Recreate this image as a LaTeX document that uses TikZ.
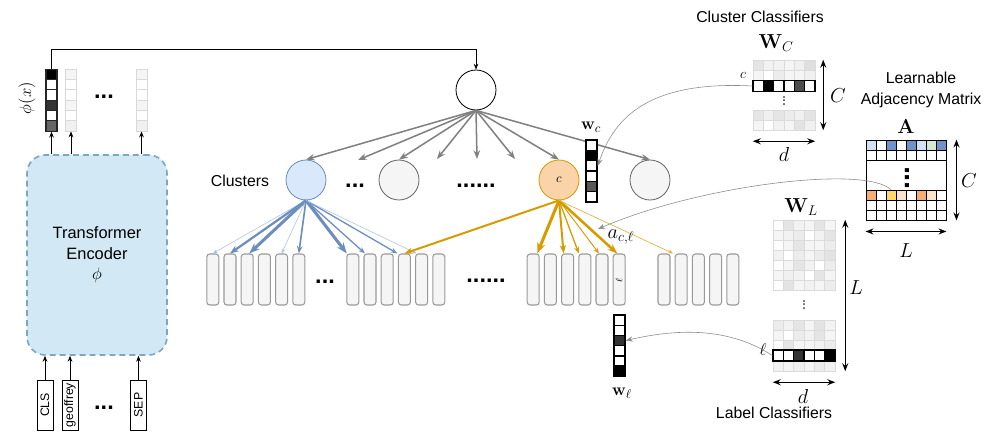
\documentclass[tikz,border=0pt]{standalone}
\usepackage[no-math]{fontspec}
\setmainfont{Liberation Sans}
\usetikzlibrary{arrows.meta}
\begin{document}
\begin{tikzpicture}[x=0.03cm,y=-0.03cm,
  enc/.style={rectangle,rounded corners=0.55cm,minimum width=4.2cm,minimum height=6cm,fill=encfill,draw=encline,dash pattern=on 5pt off 3.5pt,line width=1.4pt,align=center,font=\fontsize{14}{17.5}\selectfont},
  tok/.style={rectangle,draw,fill=white,rotate=90,minimum width=1.5cm,minimum height=0.48cm,inner sep=0pt,line width=0.7pt,font=\fontsize{10.5}{12}\selectfont},
  vcell/.style={rectangle,minimum width=0.33cm,minimum height=0.31cm,inner sep=0pt,draw=black!85,line width=0.9pt},
  fcell/.style={rectangle,minimum width=0.33cm,minimum height=0.31cm,inner sep=0pt,draw=gray!30,line width=0.6pt},
  mcell/.style={rectangle,minimum width=0.31cm,minimum height=0.3cm,inner sep=0pt,draw=gray!28,line width=0.4pt},
  hcell/.style={rectangle,minimum width=0.31cm,minimum height=0.33cm,inner sep=0pt,draw=black,line width=1.1pt},
  acell/.style={rectangle,minimum width=0.3cm,minimum height=0.3cm,inner sep=0pt,draw=black,line width=0.6pt},
  mframe/.style={rectangle,inner sep=0pt},
  leaf/.style={rectangle,rounded corners=2.5pt,minimum width=0.36cm,minimum height=1.53cm,inner sep=0pt,fill=leaffill,draw=leafline,line width=0.9pt},
  clus/.style={circle,minimum size=1.2cm,inner sep=0pt,line width=0.7pt},
  lbl/.style={font=\fontsize{13.5}{18}\selectfont},
  mlbl/.style={font=\fontsize{15}{18}\selectfont},
  biglbl/.style={font=\fontsize{17.5}{20}\selectfont},
  dotlbl/.style={font=\fontsize{20}{24}\selectfont\bfseries,inner sep=0pt},
  vdotlbl/.style={font=\fontsize{12}{12}\selectfont,rotate=90,inner sep=0pt},
  arr/.style={-{Stealth[length=5pt,width=4pt]},line width=0.7pt},
  garr/.style={-{Stealth[length=3pt 3.4]},color=treegray,line width=1.3pt},
  dimarr/.style={{Stealth[length=3pt 3.4]}-{Stealth[length=3pt 3.4]},line width=1.1pt},
  thinarr/.style={-{Stealth[length=6pt,width=4.5pt]},color=gray!90,line width=0.5pt}]
\definecolor{encfill}{HTML}{D2E8F5}
\definecolor{encline}{HTML}{7BA7C4}
\definecolor{bluefill}{HTML}{DAE8FC}
\definecolor{blueline}{HTML}{6C8EBF}
\definecolor{lightblue}{HTML}{A9C4EB}
\definecolor{orangefill}{HTML}{FAD3A8}
\definecolor{orangeline}{HTML}{D79B00}
\definecolor{lightorange}{HTML}{E3B449}
\definecolor{leaffill}{HTML}{F5F5F5}
\definecolor{leafline}{HTML}{999999}
\definecolor{treegray}{HTML}{808080}
\definecolor{nodegray}{HTML}{666666}
\definecolor{amblue}{HTML}{6F93C9}
\definecolor{amlight}{HTML}{CFE2F6}
\definecolor{amgreen}{HTML}{D5E8D4}
\definecolor{amorange}{HTML}{F5AE74}
\definecolor{amyellow}{HTML}{FFD966}
\definecolor{ampeach}{HTML}{FCE3CC}
\useasboundingbox (0,0) rectangle (999,433);

\node[enc] (enc) at (97,255) {Transformer\\Encoder\\$\phi$};
\node[tok] (cls) at (45,405) {CLS};
\node[tok] (geo) at (70,405) {geoffrey};
\node[tok] (sep) at (138.5,405) {SEP};
\node[dotlbl] (tokdots) at (104,408) {...};
\foreach \t in {cls,geo,sep}
  {\draw[arr] (\t.east) -- (\t.east |- enc.south);}

\foreach \clr [count=\i] in {black,white,white,black!80,white,black!60}
  {\node[vcell,fill=\clr] (phia\i) at (51.5,64+10.33*\i) {};}
\foreach \clr [count=\i] in {gray!8,white,white,gray!8,white,gray!12}
  {\node[fcell,fill=\clr] (phib\i) at (71,64+10.33*\i) {};
   \node[fcell,fill=\clr] (phic\i) at (141.5,64+10.33*\i) {};}
\node[dotlbl] (phidots) at (104,97) {...};
\node[mlbl,rotate=90] (phix) at (27,98) {$\phi(x)$};
\foreach \v in {phia6,phib6,phic6}
  {\draw[arr] (\v.south |- enc.north) -- (\v.south);}

\node[clus,draw=black,fill=white] (root) at (476,90) {};
\draw[arr] (phia1.north) -- ++(0,-19) -| (root.north);
\node[clus,fill=bluefill,draw=blueline] (cl1) at (306,180) {};
\node[clus,fill=leaffill,draw=nodegray] (cl2) at (399,180) {};
\node[clus,fill=orangefill,draw=orangeline,font=\fontsize{11}{12}\selectfont] (clc) at (559,180) {$c$};
\node[clus,fill=leaffill,draw=nodegray] (cl4) at (650,180) {};
\node[lbl] (clulbl) at (240,181) {Clusters};
\node[dotlbl] (cldots1) at (355,186) {...};
\node[dotlbl] (cldots2) at (476,186) {......};
\coordinate (t2) at (358,160);
\coordinate (t4) at (437,159);
\coordinate (t5) at (477,159);
\coordinate (t6) at (515,159);
\foreach \tgt in {cl1.north,t2,cl2.north,t4,t5,t6,clc.north,cl4.north}
  {\draw[garr] (root.south) -- (\tgt);}

\foreach \g/\xs/\n in {a/212.8/6,b/352.8/6,c/533.2/6,d/664/5}
  {\foreach \i in {1,...,\n}
    {\node[leaf] (\g\i) at (\xs+17.2*\i-17.2,279.5) {};}}
\node[dotlbl] (lfdots1) at (325,282) {...};
\node[dotlbl] (lfdots2) at (486,281) {......};
\node[font=\fontsize{8}{8}\selectfont,rotate=90,inner sep=0pt] (ell) at (619,280) {$\ell$};

\foreach \t/\dx/\lw/\clr in {a1/0/0.5pt/lightblue,a2/0/1.9pt/blueline,a3/2/2.6pt/blueline,a5/0/0.5pt/lightblue,a6/0/1.4pt/blueline,b1/-6/2.6pt/blueline,b2/-5/1.1pt/blueline,b4/-7/1.1pt/blueline,b5/-5/0.5pt/lightblue}
  {\draw[-{Stealth[length=3pt 2.4]},line width=\lw,color=\clr] (cl1.south) -- ([xshift=\dx*0.3mm]\t.north);}
\foreach \t/\dx/\lw/\clr in {b4/0/1.7pt/orangeline,c1/4/2.6pt/orangeline,c3/-4/1.7pt/orangeline,c4/-6/1.1pt/orangeline,c5/-3/0.8pt/orangeline,c6/-2/2.2pt/orangeline,d2/-8/0.6pt/lightorange}
  {\draw[-{Stealth[length=3pt 2.4]},line width=\lw,color=\clr] (clc.south) -- ([xshift=\dx*0.3mm]\t.north);}

\foreach \clr [count=\i] in {white,black,white,white,black!65,white}
  {\node[vcell,draw=black,line width=1.2pt,fill=\clr] (wcv\i) at (591.5,134.8+10.33*\i) {};}
\node[mlbl] (wclbl) at (591,127) {$\mathbf{w}_c$};
\foreach \clr [count=\i] in {white,white,black!80,white,white,black}
  {\node[vcell,draw=black,line width=1.2pt,fill=\clr] (wlv\i) at (619.5,310+10.2*\i) {};}
\node[mlbl] (wllbl) at (622,393) {$\mathbf{w}_\ell$};

\node[mframe,minimum width=1.86cm,minimum height=2.1cm] (wcmat) at (784,95) {};
\foreach \yc/\cols [count=\r] in {65/{gray!20,gray!10,gray!10,gray!8,gray!12,gray!25},75/{gray!8,white,gray!15,gray!8,gray!8,gray!12},115/{gray!20,gray!12,gray!20,gray!15,gray!12,gray!22},125/{gray!8,white,gray!10,gray!8,gray!22,gray!12}}
  {\foreach \clr [count=\i] in \cols
    {\node[mcell,fill=\clr] (wcm\r-\i) at (753+10.33*\i-5.17,\yc) {};}}
\foreach \clr [count=\i] in {white,black,white,white,black!70,white}
  {\node[hcell,fill=\clr] (wch\i) at (753+10.33*\i-5.17,86) {};}
\node[vdotlbl] (wcdots) at (784,101) {...};
\node[biglbl] (wcname) at (776,43) {$\mathbf{W}_C$};
\node[lbl] (wccap) at (760,17) {Cluster Classifiers};
\node[font=\fontsize{12}{12}\selectfont] (wcc) at (743,75) {$c$};
\draw[dimarr] ([xshift=0.24cm]wcmat.north east) -- ([xshift=0.24cm]wcmat.south east);
\node[biglbl] (wcC) at (838,96) {$C$};
\draw[dimarr] ([yshift=-0.33cm]wcmat.south west) -- ([yshift=-0.33cm]wcmat.south east);
\node[biglbl] (wcd) at (784,154) {$d$};

\node[mframe,draw=black,line width=0.8pt,minimum width=2.4cm,minimum height=2.4cm] (amat) at (906,180) {};
\foreach \yc/\cols [count=\r] in {145/{amlight,white,amblue,white,amblue,amlight,amgreen,amblue},155/{white,white,white,white,white,white,white,white},195/{amorange,white,amyellow,ampeach,white,amorange,ampeach,white},205/{white,white,white,white,white,white,white,white},215/{white,white,white,white,white,white,white,white}}
  {\foreach \clr [count=\i] in \cols
    {\node[acell,fill=\clr] (am\r-\i) at (866+10*\i-5,\yc) {};}}
\node[font=\fontsize{24}{24}\selectfont\bfseries,rotate=90,inner sep=0pt] (amdots) at (907,178) {...};
\node[biglbl] (aname) at (906,127) {$\mathbf{A}$};
\node[lbl,align=center] (acap) at (921,90) {Learnable\\Adjacency Matrix};
\draw[dimarr] ([xshift=0.3cm]amat.north east) -- ([xshift=0.3cm]amat.south east);
\node[biglbl] (aC) at (969,181) {$C$};
\draw[dimarr] ([yshift=-0.33cm]amat.south west) -- ([yshift=-0.33cm]amat.south east);
\node[biglbl] (aL) at (906,251) {$L$};

\node[mframe,minimum width=1.86cm,minimum height=4.53cm] (wlmat) at (804,295.5) {};
\foreach \yc/\cols [count=\r] in {225/{white,gray!20,gray!10,gray!8,gray!20,gray!8},235/{gray!8,gray!10,gray!15,white,gray!10,gray!20},245/{white,gray!8,gray!20,gray!8,gray!8,gray!15},255/{gray!10,white,gray!15,gray!8,gray!15,gray!22},265/{white,gray!8,gray!20,gray!10,white,gray!15},275/{gray!8,gray!12,gray!10,white,gray!20,gray!8},285/{white,gray!22,gray!8,gray!10,gray!8,gray!15},325/{gray!15,gray!10,gray!20,gray!8,gray!22,gray!10},335/{gray!8,white,gray!15,gray!10,gray!20,gray!8},345/{white,gray!20,gray!8,gray!8,gray!10,gray!15},366/{gray!10,gray!8,gray!12,gray!8,gray!15,gray!10}}
  {\foreach \clr [count=\i] in \cols
    {\node[mcell,fill=\clr] (wlm\r-\i) at (773+10.33*\i-5.17,\yc) {};}}
\foreach \clr [count=\i] in {white,white,black!80,white,white,black}
  {\node[hcell,fill=\clr] (wlh\i) at (773+10.33*\i-5.17,355.5) {};}
\node[vdotlbl] (wldots) at (804,305) {...};
\node[biglbl] (wlname) at (801,207) {$\mathbf{W}_L$};
\node[lbl] (wlcap) at (774,413) {Label Classifiers};
\node[mlbl] (wlell) at (763,350) {$\ell$};
\draw[dimarr] ([xshift=0.3cm]wlmat.north east) -- ([xshift=0.3cm]wlmat.south east);
\node[biglbl] (wlL) at (856,288) {$L$};
\draw[dimarr] ([yshift=-0.33cm]wlmat.south west) -- ([yshift=-0.33cm]wlmat.south east);
\node[biglbl,inner sep=1pt] (wld) at (803,396) {$d$};

\node[biglbl] (acl) at (621,237) {$a_{c,\ell}$};
\coordinate (aclpt) at (598,229);
\draw[thinarr] (wch1.west) .. controls (640,80) and (612,125) .. (wcv3.east);
\draw[thinarr] (am3-3.north) .. controls (865,165) and (700,185) .. (aclpt);
\draw[thinarr] (wlh1.west) .. controls (730,328) and (680,328) .. (wlv3.east);
\end{tikzpicture}
\end{document}
